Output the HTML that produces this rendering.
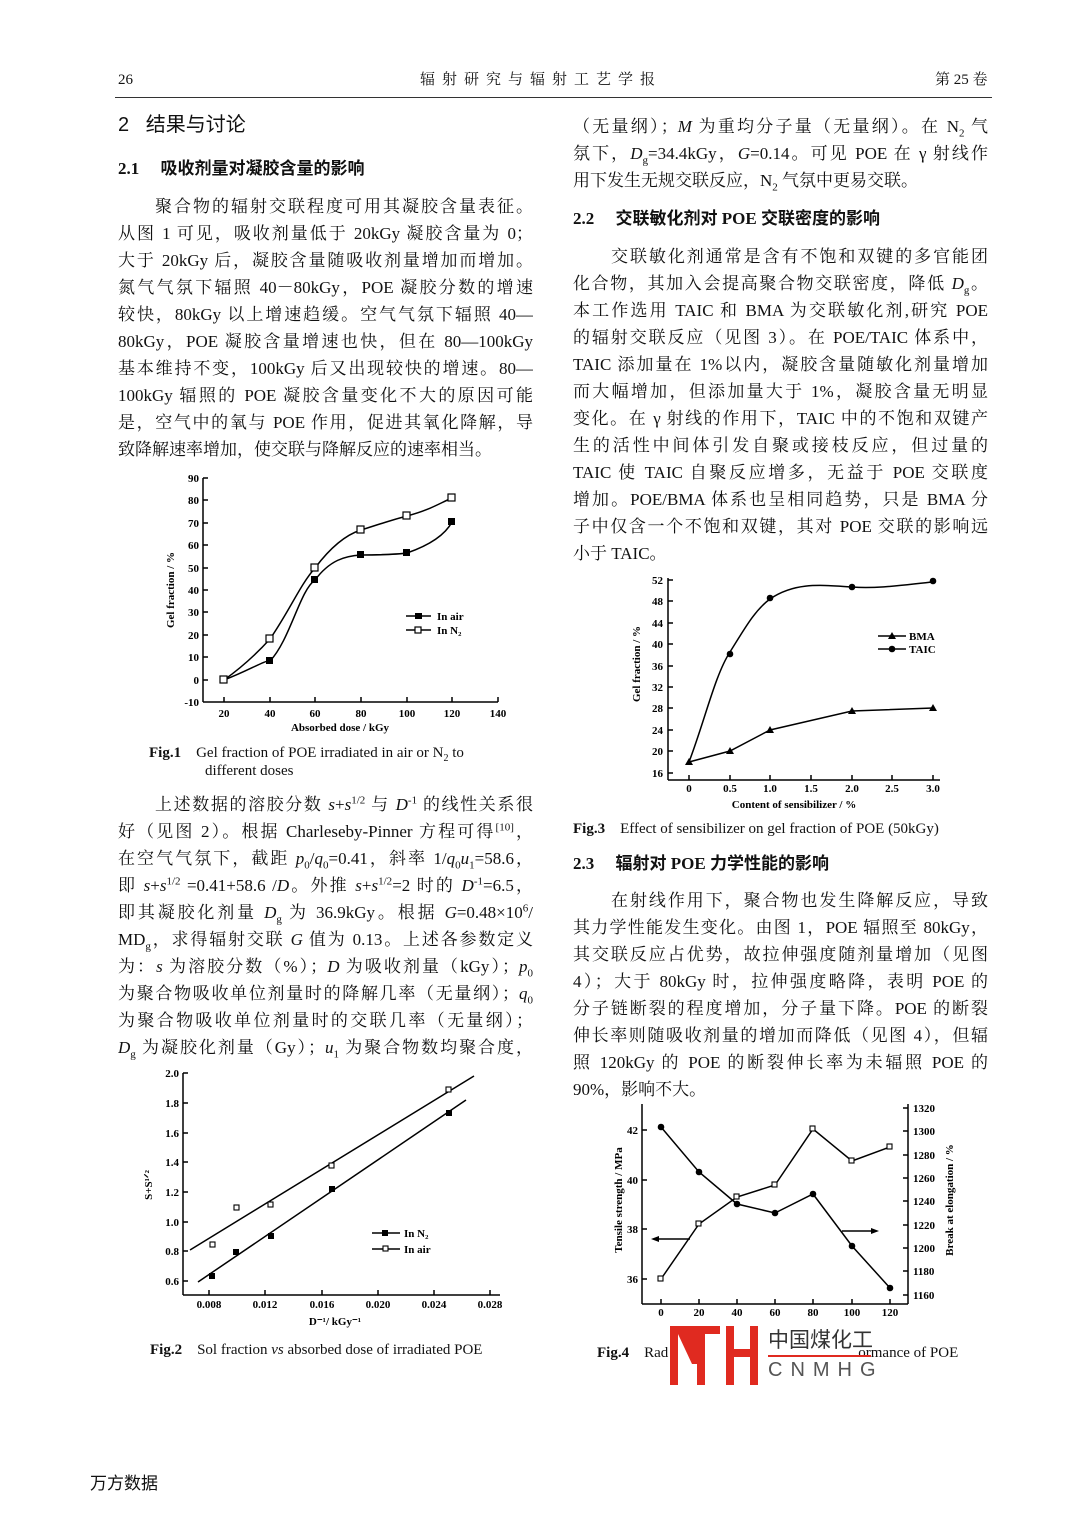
<!DOCTYPE html>
<html><head><meta charset="utf-8">
<style>
body{margin:0;background:#fff;}
#p{position:relative;width:1072px;height:1516px;overflow:hidden;font-family:"Liberation Serif","Noto Serif CJK SC",serif;color:#111;}
.l{position:absolute;font-size:17px;line-height:26px;white-space:nowrap;}
.j{text-align:justify;text-align-last:justify;white-space:normal;height:26px;overflow:hidden;}
.L{left:118px;width:415px;}
.R{left:573px;width:415px;}
.h{font-weight:bold;}
sub,sup{line-height:0;}
.cap{position:absolute;font-size:15px;line-height:18px;white-space:nowrap;}
svg text{font-family:"Liberation Serif",serif;font-weight:bold;}
</style></head><body><div id="p">
<div class="l" style="left:118px;top:67px;font-size:15px">26</div>
<div class="l" style="left:420px;top:67px;font-size:15px;letter-spacing:7px">辐射研究与辐射工艺学报</div>
<div class="l" style="left:935px;top:67px;font-size:15px">第 25 卷</div>
<div style="position:absolute;left:115px;top:97px;width:877px;height:1px;background:#333"></div>

<div class="l" style="left:118px;top:112px;font-size:20px;font-family:'Liberation Sans','Noto Sans CJK SC',sans-serif">2&nbsp;&nbsp;&nbsp;结果与讨论</div>
<div class="l h" style="left:118px;top:156px;font-family:'Liberation Serif','Noto Sans CJK SC',sans-serif">2.1&nbsp;&nbsp;&nbsp;&nbsp;&nbsp;吸收剂量对凝胶含量的影响</div>
<div class="l j L" style="top:194px;left:155px;width:378px">聚合物的辐射交联程度可用其凝胶含量表征。</div>
<div class="l j L" style="top:221px">从图 1 可见，吸收剂量低于 20kGy 凝胶含量为 0；</div>
<div class="l j L" style="top:248px">大于 20kGy 后，凝胶含量随吸收剂量增加而增加。</div>
<div class="l j L" style="top:275px">氮气气氛下辐照 40－80kGy，POE 凝胶分数的增速</div>
<div class="l j L" style="top:302px">较快，80kGy 以上增速趋缓。空气气氛下辐照 40—</div>
<div class="l j L" style="top:329px">80kGy，POE 凝胶含量增速也快，但在 80—100kGy</div>
<div class="l j L" style="top:356px">基本维持不变，100kGy 后又出现较快的增速。80—</div>
<div class="l j L" style="top:383px">100kGy 辐照的 POE 凝胶含量变化不大的原因可能</div>
<div class="l j L" style="top:410px">是，空气中的氧与 POE 作用，促进其氧化降解，导</div>
<div class="l L" style="top:437px">致降解速率增加，使交联与降解反应的速率相当。</div>

<svg style="position:absolute;left:0;top:0" width="1072" height="1516">
<g stroke="#000" fill="none" stroke-width="1.5">
<line x1="203" y1="478" x2="203" y2="702"/><line x1="203" y1="702" x2="498" y2="702"/>
<path d="M203 478h5M203 500h5M203 523h5M203 545h5M203 568h5M203 590h5M203 612h5M203 635h5M203 657h5M203 680h5M224 702v-5M270 702v-5M315 702v-5M361 702v-5M407 702v-5M452 702v-5M498 702v-5"/>
<path d="M224 680 C250 670,265 660,270 661 C290 640,300 590,315 580 C330 560,345 556,361 555 C380 555,400 554,407 553 C430 545,445 535,452 522"/>
<path d="M224 680 C245 665,260 650,270 639 C290 610,300 585,315 568 C330 548,345 535,361 530 C380 524,395 519,407 516 C430 510,440 503,452 498"/>
<path d="M406 616h25M406 630h25"/>
</g>
<g fill="#000"><rect x="266" y="657" width="7" height="7"/><rect x="311" y="576" width="7" height="7"/><rect x="357" y="551" width="7" height="7"/><rect x="403" y="549" width="7" height="7"/><rect x="448" y="518" width="7" height="7"/><rect x="415" y="613" width="7" height="6"/></g>
<g fill="#fff" stroke="#000" stroke-width="1.2"><rect x="220" y="676" width="7" height="7"/><rect x="266" y="635" width="7" height="7"/><rect x="311" y="564" width="7" height="7"/><rect x="357" y="526" width="7" height="7"/><rect x="403" y="512" width="7" height="7"/><rect x="448" y="494" width="7" height="7"/><rect x="415" y="627" width="6" height="6"/></g>
<g font-size="11" text-anchor="end"><text x="199" y="482">90</text><text x="199" y="504">80</text><text x="199" y="527">70</text><text x="199" y="549">60</text><text x="199" y="572">50</text><text x="199" y="594">40</text><text x="199" y="616">30</text><text x="199" y="639">20</text><text x="199" y="661">10</text><text x="199" y="684">0</text><text x="199" y="706">-10</text></g>
<g font-size="11" text-anchor="middle"><text x="224" y="717">20</text><text x="270" y="717">40</text><text x="315" y="717">60</text><text x="361" y="717">80</text><text x="407" y="717">100</text><text x="452" y="717">120</text><text x="498" y="717">140</text><text x="340" y="731">Absorbed dose / kGy</text></g>
<text x="174" y="590" font-size="11" text-anchor="middle" transform="rotate(-90 174 590)">Gel fraction / %</text>
<text x="437" y="620" font-size="11">In air</text><text x="437" y="634" font-size="11">In N₂</text>

<g stroke="#000" fill="none" stroke-width="1.5">
<line x1="183" y1="1073" x2="183" y2="1295"/><line x1="183" y1="1295" x2="500" y2="1295"/>
<path d="M183 1073h5M183 1103h5M183 1133h5M183 1162h5M183 1192h5M183 1222h5M183 1251h5M183 1281h5M209 1295v-5M265 1295v-5M322 1295v-5M378 1295v-5M434 1295v-5M490 1295v-5"/>
<line x1="190" y1="1250" x2="474" y2="1076"/><line x1="198" y1="1282" x2="466" y2="1100"/>
<path d="M372 1233h28M372 1249h28"/>
</g>
<g fill="#000"><rect x="209" y="1273" width="6" height="6"/><rect x="233" y="1249" width="6" height="6"/><rect x="268" y="1233" width="6" height="6"/><rect x="329" y="1186" width="6" height="6"/><rect x="446" y="1110" width="6" height="6"/><rect x="382" y="1230" width="6" height="6"/></g>
<g fill="#fff" stroke="#000" stroke-width="1.1"><rect x="210" y="1242" width="5" height="5"/><rect x="234" y="1205" width="5" height="5"/><rect x="268" y="1202" width="5" height="5"/><rect x="329" y="1163" width="5" height="5"/><rect x="446" y="1087" width="5" height="5"/><rect x="383" y="1246" width="5" height="5"/></g>
<g font-size="11" text-anchor="end"><text x="179" y="1077">2.0</text><text x="179" y="1107">1.8</text><text x="179" y="1137">1.6</text><text x="179" y="1166">1.4</text><text x="179" y="1196">1.2</text><text x="179" y="1226">1.0</text><text x="179" y="1255">0.8</text><text x="179" y="1285">0.6</text></g>
<g font-size="11" text-anchor="middle"><text x="209" y="1308">0.008</text><text x="265" y="1308">0.012</text><text x="322" y="1308">0.016</text><text x="378" y="1308">0.020</text><text x="434" y="1308">0.024</text><text x="490" y="1308">0.028</text><text x="335" y="1325">D⁻¹/ kGy⁻¹</text></g>
<text x="152" y="1185" font-size="11" text-anchor="middle" transform="rotate(-90 152 1185)">S+S¹ᐟ²</text>
<text x="404" y="1237" font-size="11">In N₂</text><text x="404" y="1253" font-size="11">In air</text>

<g stroke="#000" fill="none" stroke-width="1.5">
<line x1="668" y1="578" x2="668" y2="780"/><line x1="668" y1="780" x2="940" y2="780"/>
<path d="M668 580h5M668 601h5M668 623h5M668 644h5M668 666h5M668 687h5M668 708h5M668 730h5M668 751h5M668 773h5M689 780v-5M730 780v-5M770 780v-5M811 780v-5M852 780v-5M892 780v-5M933 780v-5"/>
<path d="M689 762 L730 751 L770 730 L852 711 L933 708"/>
<path d="M689 762 C705 720,715 675,730 652 C745 628,755 610,770 599 C795 582,820 585,852 587 C880 589,910 584,933 582"/>
<path d="M878 636h28M878 649h28"/>
</g>
<g fill="#000"><path d="M689 758l4 7h-8z"/><path d="M730 747l4 7h-8z"/><path d="M770 726l4 7h-8z"/><path d="M852 707l4 7h-8z"/><path d="M933 704l4 7h-8z"/><path d="M892 632l4 7h-8z"/>
<circle cx="730" cy="654" r="3.3"/><circle cx="770" cy="598" r="3.3"/><circle cx="852" cy="587" r="3.3"/><circle cx="933" cy="581" r="3.3"/><circle cx="892" cy="649" r="3.3"/></g>
<g font-size="11" text-anchor="end"><text x="663" y="584">52</text><text x="663" y="605">48</text><text x="663" y="627">44</text><text x="663" y="648">40</text><text x="663" y="670">36</text><text x="663" y="691">32</text><text x="663" y="712">28</text><text x="663" y="734">24</text><text x="663" y="755">20</text><text x="663" y="777">16</text></g>
<g font-size="11" text-anchor="middle"><text x="689" y="792">0</text><text x="730" y="792">0.5</text><text x="770" y="792">1.0</text><text x="811" y="792">1.5</text><text x="852" y="792">2.0</text><text x="892" y="792">2.5</text><text x="933" y="792">3.0</text><text x="794" y="808">Content of sensibilizer / %</text></g>
<text x="640" y="664" font-size="11" text-anchor="middle" transform="rotate(-90 640 664)">Gel fraction / %</text>
<text x="909" y="640" font-size="11">BMA</text><text x="909" y="653" font-size="11">TAIC</text>

<g stroke="#000" fill="none" stroke-width="1.5">
<line x1="642" y1="1104" x2="642" y2="1304"/><line x1="642" y1="1304" x2="908" y2="1304"/><line x1="908" y1="1104" x2="908" y2="1304"/>
<path d="M642 1130h5M642 1180h5M642 1229h5M642 1279h5M908 1108h-5M908 1131h-5M908 1155h-5M908 1178h-5M908 1201h-5M908 1225h-5M908 1248h-5M908 1271h-5M908 1295h-5M661 1304v-5M699 1304v-5M737 1304v-5M775 1304v-5M813 1304v-5M852 1304v-5M890 1304v-5"/>
<path d="M661 1127 L699 1172 L737 1204 L775 1213 L813 1194 L852 1246 L890 1288"/>
<path d="M661 1279 L699 1224 L737 1197 L775 1185 L813 1129 L852 1161 L890 1147"/>
<path d="M658 1239h32M842 1231h30"/>
</g>
<g fill="#000"><path d="M651 1239l8-3v6z"/><path d="M879 1231l-8-3v6z"/>
<circle cx="661" cy="1127" r="3.3"/><circle cx="699" cy="1172" r="3.3"/><circle cx="737" cy="1204" r="3.3"/><circle cx="775" cy="1213" r="3.3"/><circle cx="813" cy="1194" r="3.3"/><circle cx="852" cy="1246" r="3.3"/><circle cx="890" cy="1288" r="3.3"/></g>
<g fill="#fff" stroke="#000" stroke-width="1.1"><rect x="658" y="1276" width="5" height="5"/><rect x="696" y="1221" width="5" height="5"/><rect x="734" y="1194" width="5" height="5"/><rect x="772" y="1182" width="5" height="5"/><rect x="810" y="1126" width="5" height="5"/><rect x="849" y="1158" width="5" height="5"/><rect x="887" y="1144" width="5" height="5"/></g>
<g font-size="11" text-anchor="end"><text x="638" y="1134">42</text><text x="638" y="1184">40</text><text x="638" y="1233">38</text><text x="638" y="1283">36</text></g>
<g font-size="11"><text x="913" y="1112">1320</text><text x="913" y="1135">1300</text><text x="913" y="1159">1280</text><text x="913" y="1182">1260</text><text x="913" y="1205">1240</text><text x="913" y="1229">1220</text><text x="913" y="1252">1200</text><text x="913" y="1275">1180</text><text x="913" y="1299">1160</text></g>
<g font-size="11" text-anchor="middle"><text x="661" y="1316">0</text><text x="699" y="1316">20</text><text x="737" y="1316">40</text><text x="775" y="1316">60</text><text x="813" y="1316">80</text><text x="852" y="1316">100</text><text x="890" y="1316">120</text></g>
<text x="622" y="1200" font-size="11" text-anchor="middle" transform="rotate(-90 622 1200)">Tensile strength / MPa</text>
<text x="953" y="1200" font-size="11" text-anchor="middle" transform="rotate(-90 953 1200)">Break at elongation / %</text>
</svg>

<div class="cap" style="left:149px;top:744px"><b>Fig.1</b>&nbsp;&nbsp;&nbsp;&nbsp;Gel fraction of POE irradiated in air or N<sub style="font-size:10px">2</sub> to</div>
<div class="cap" style="left:205px;top:762px">different doses</div>

<div class="l j L" style="top:792px;left:155px;width:378px">上述数据的溶胶分数 <i>s</i>+<i>s</i><sup style="font-size:11px">1/2</sup> 与 <i>D</i><sup style="font-size:11px">-1</sup> 的线性关系很</div>
<div class="l j L" style="top:819px">好（见图 2）。根据 Charleseby-Pinner 方程可得<sup style="font-size:11px">[10]</sup>，</div>
<div class="l j L" style="top:846px">在空气气氛下，截距 <i>p</i><sub style="font-size:11px">0</sub>/<i>q</i><sub style="font-size:11px">0</sub>=0.41，斜率 1/<i>q</i><sub style="font-size:11px">0</sub><i>u</i><sub style="font-size:11px">1</sub>=58.6，</div>
<div class="l j L" style="top:873px">即 <i>s</i>+<i>s</i><sup style="font-size:11px">1/2</sup> =0.41+58.6 /<i>D</i>。外推 <i>s</i>+<i>s</i><sup style="font-size:11px">1/2</sup>=2 时的 <i>D</i><sup style="font-size:11px">-1</sup>=6.5，</div>
<div class="l j L" style="top:900px">即其凝胶化剂量 <i>D</i><sub style="font-size:11px">g</sub> 为 36.9kGy。根据 <i>G</i>=0.48×10<sup style="font-size:11px">6</sup>/</div>
<div class="l j L" style="top:927px">MD<sub style="font-size:11px">g</sub>，求得辐射交联 <i>G</i> 值为 0.13。上述各参数定义</div>
<div class="l j L" style="top:954px">为：<i>s</i> 为溶胶分数（%）；<i>D</i> 为吸收剂量（kGy）；<i>p</i><sub style="font-size:11px">0</sub></div>
<div class="l j L" style="top:981px">为聚合物吸收单位剂量时的降解几率（无量纲）；<i>q</i><sub style="font-size:11px">0</sub></div>
<div class="l j L" style="top:1008px">为聚合物吸收单位剂量时的交联几率（无量纲）；</div>
<div class="l j L" style="top:1035px"><i>D</i><sub style="font-size:11px">g</sub> 为凝胶化剂量（Gy）；<i>u</i><sub style="font-size:11px">1</sub> 为聚合物数均聚合度，</div>
<div class="cap" style="left:150px;top:1341px"><b>Fig.2</b>&nbsp;&nbsp;&nbsp;&nbsp;Sol fraction <i>vs</i> absorbed dose of irradiated POE</div>

<div class="l j R" style="top:114px">（无量纲）；<i>M</i> 为重均分子量（无量纲）。在 N<sub style="font-size:11px">2</sub> 气</div>
<div class="l j R" style="top:141px">氛下，<i>D</i><sub style="font-size:11px">g</sub>=34.4kGy，<i>G</i>=0.14。可见 POE 在 γ 射线作</div>
<div class="l R" style="top:168px">用下发生无规交联反应，N<sub style="font-size:11px">2</sub> 气氛中更易交联。</div>
<div class="l h" style="left:573px;top:206px;font-family:'Liberation Serif','Noto Sans CJK SC',sans-serif">2.2&nbsp;&nbsp;&nbsp;&nbsp;&nbsp;交联敏化剂对 POE 交联密度的影响</div>
<div class="l j R" style="top:244px;left:611px;width:377px">交联敏化剂通常是含有不饱和双键的多官能团</div>
<div class="l j R" style="top:271px">化合物，其加入会提高聚合物交联密度，降低 <i>D</i><sub style="font-size:11px">g</sub>。</div>
<div class="l j R" style="top:298px">本工作选用 TAIC 和 BMA 为交联敏化剂,研究 POE</div>
<div class="l j R" style="top:325px">的辐射交联反应（见图 3）。在 POE/TAIC 体系中，</div>
<div class="l j R" style="top:352px">TAIC 添加量在 1%以内，凝胶含量随敏化剂量增加</div>
<div class="l j R" style="top:379px">而大幅增加，但添加量大于 1%，凝胶含量无明显</div>
<div class="l j R" style="top:406px">变化。在 γ 射线的作用下，TAIC 中的不饱和双键产</div>
<div class="l j R" style="top:433px">生的活性中间体引发自聚或接枝反应，但过量的</div>
<div class="l j R" style="top:460px">TAIC 使 TAIC 自聚反应增多，无益于 POE 交联度</div>
<div class="l j R" style="top:487px">增加。POE/BMA 体系也呈相同趋势，只是 BMA 分</div>
<div class="l j R" style="top:514px">子中仅含一个不饱和双键，其对 POE 交联的影响远</div>
<div class="l R" style="top:541px">小于 TAIC。</div>
<div class="cap" style="left:573px;top:820px"><b>Fig.3</b>&nbsp;&nbsp;&nbsp;&nbsp;Effect of sensibilizer on gel fraction of POE (50kGy)</div>
<div class="l h" style="left:573px;top:851px;font-family:'Liberation Serif','Noto Sans CJK SC',sans-serif">2.3&nbsp;&nbsp;&nbsp;&nbsp;&nbsp;辐射对 POE 力学性能的影响</div>
<div class="l j R" style="top:888px;left:611px;width:377px">在射线作用下，聚合物也发生降解反应，导致</div>
<div class="l j R" style="top:915px">其力学性能发生变化。由图 1，POE 辐照至 80kGy，</div>
<div class="l j R" style="top:942px">其交联反应占优势，故拉伸强度随剂量增加（见图</div>
<div class="l j R" style="top:969px">4）；大于 80kGy 时，拉伸强度略降，表明 POE 的</div>
<div class="l j R" style="top:996px">分子链断裂的程度增加，分子量下降。POE 的断裂</div>
<div class="l j R" style="top:1023px">伸长率则随吸收剂量的增加而降低（见图 4），但辐</div>
<div class="l j R" style="top:1050px">照 120kGy 的 POE 的断裂伸长率为未辐照 POE 的</div>
<div class="l R" style="top:1077px">90%，影响不大。</div>
<div class="cap" style="left:597px;top:1344px"><b>Fig.4</b>&nbsp;&nbsp;&nbsp;&nbsp;Rad<span style="margin-left:190px">ormance of POE</span></div>

<svg style="position:absolute;left:670px;top:1324px" width="95" height="62">
<g fill="#e02a20"><rect x="0" y="2" width="8" height="59"/><rect x="0" y="2" width="50" height="8"/><rect x="27" y="2" width="8" height="59"/><rect x="56" y="2" width="8" height="59"/><rect x="80" y="2" width="8" height="59"/><rect x="56" y="25" width="32" height="8"/><path d="M8 10 L22 40 L27 40 L27 10 Z" /></g>
</svg>
<div class="l" style="left:768px;top:1326px;font-size:21px;font-family:'Noto Sans CJK SC',sans-serif;color:#333">中国煤化工</div>
<div style="position:absolute;left:768px;top:1355px;width:103px;height:2px;background:#e02a20"></div>
<div class="l" style="left:768px;top:1357px;font-size:20px;letter-spacing:8px;font-family:'Liberation Sans',sans-serif;color:#555">CNMHG</div>

<div class="l" style="left:90px;top:1469px;font-size:17px;font-family:'Noto Sans CJK SC',sans-serif">万方数据</div>
</div></body></html>
